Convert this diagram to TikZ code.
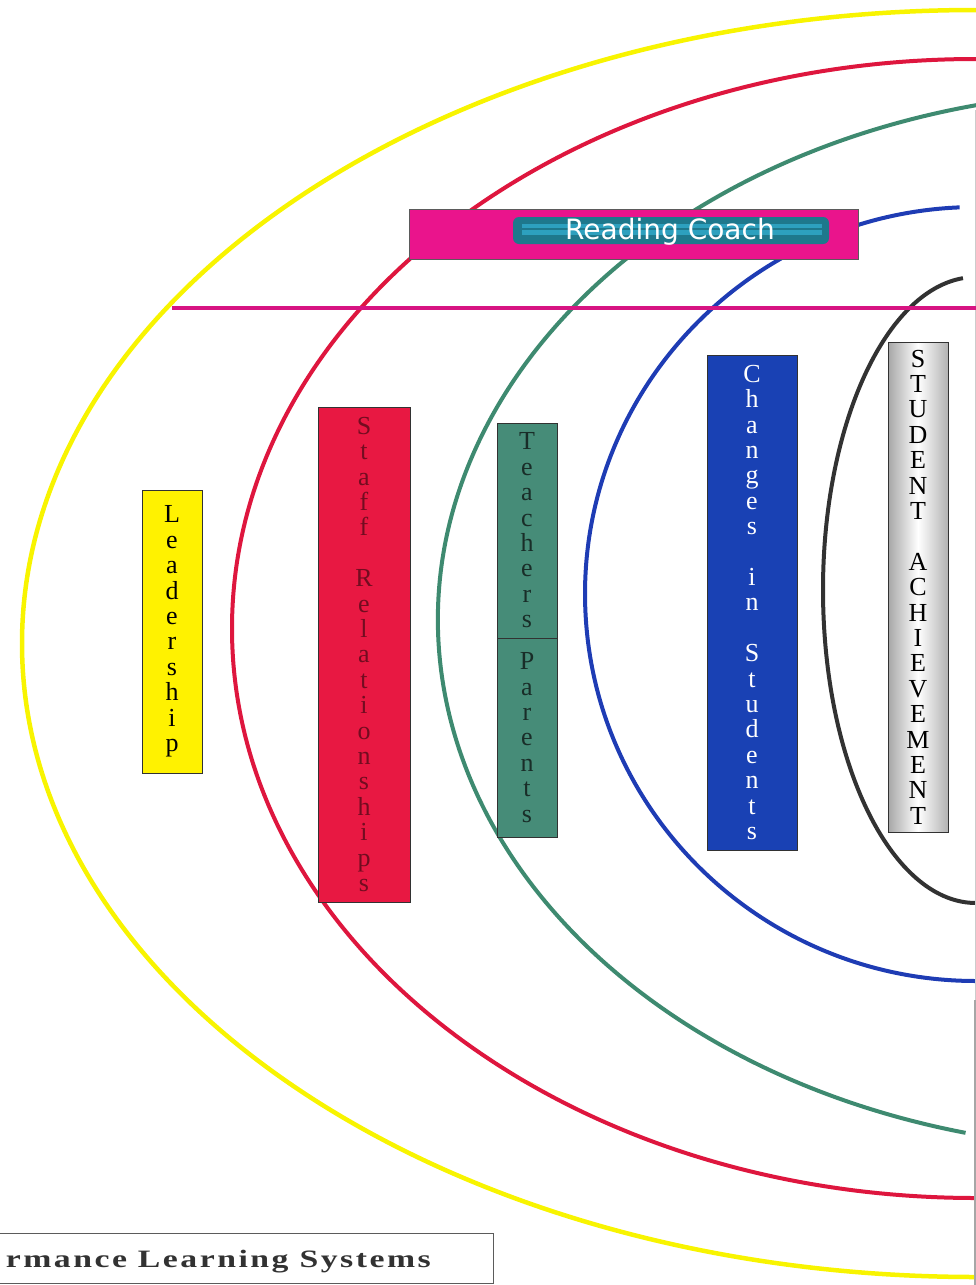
\documentclass[tikz,border=0pt]{standalone}
\usepackage{fontspec}
\setmainfont{Liberation Serif}
\newfontfamily\rcfont{DejaVu Sans}
\newfontfamily\plsfont[FakeStretch=1.35,LetterSpace=10]{Liberation Serif}
\definecolor{ylw}{RGB}{248,244,0}
\definecolor{crv}{RGB}{222,22,62}
\definecolor{grn}{RGB}{62,138,112}
\definecolor{blu}{RGB}{30,60,180}
\definecolor{blk}{RGB}{50,50,50}
\definecolor{mag}{RGB}{215,20,130}
\definecolor{pinkfill}{RGB}{234,20,140}
\definecolor{teal1}{RGB}{30,120,140}
\definecolor{teal2}{RGB}{45,160,190}
\definecolor{stafffill}{RGB}{232,24,66}
\definecolor{staffink}{RGB}{115,12,32}
\definecolor{teachfill}{RGB}{70,140,120}
\definecolor{teachink}{RGB}{25,45,40}
\definecolor{chgfill}{RGB}{25,65,180}
\begin{document}
\begin{tikzpicture}[x=1pt,y=-1pt,
  curve/.style={line width=4pt},
  vbox/.style={draw=blk, line width=0.9pt, inner sep=0pt},
  vtext/.style={inner sep=0pt, align=center, font=\fontsize{26}{25.4}\selectfont},
]
\useasboundingbox (0,0) rectangle (976,1285);
\begin{scope}
\clip (0,0) rectangle (976,1285);
% nested arcs
\draw[curve, ylw, line width=4.5pt] (976,643.5) ++(270:954 and 633.5)
  arc[start angle=270, end angle=90, x radius=954, y radius=633.5];
\draw[curve, crv] (976,628.5) ++(270:744 and 569.5)
  arc[start angle=270, end angle=90, x radius=744, y radius=569.5];
\draw[curve, grn] (1137,620) ++(258:699 and 529)
  arc[start angle=258, end angle=104.2, x radius=699, y radius=529];
\draw[curve, blu] (976,594) ++(267.6:391 and 387)
  arc[start angle=267.6, end angle=90, x radius=391, y radius=387];
\draw[curve, blk] (976,590) ++(265.1:153 and 313)
  arc[start angle=265.1, end angle=90, x radius=153, y radius=313];
% page edge
\coordinate (eT) at (975,110);
\coordinate (eM) at (975,1000);
\coordinate (eB) at (975,1285);
\draw[gray!40, line width=1pt] (eT) -- (eM);
\draw[gray!70, line width=1.2pt] (eM) -- (eB);
\end{scope}
% magenta line
\coordinate (mL) at (172,308);
\coordinate (mR) at (976,308);
\draw[mag, line width=3.5pt] (mL) -- (mR);
% Reading coach
\node[draw=blk!80, line width=0.8pt, fill=pinkfill, minimum width=449pt, minimum height=50pt, inner sep=0pt] (rc) at (633.5,234) {};
\node[fill=teal1, rounded corners=6pt, minimum width=316pt, minimum height=27pt, inner sep=0pt] (rcin) at (671,230.5) {};
\node[fill=teal2, minimum width=300pt, minimum height=11pt, inner sep=0pt] (rcstripe) at (672,229) {};
\draw[teal1, line width=1.2pt] (rcstripe.west) -- (rcstripe.east);
\node[text=white, font=\rcfont\fontsize{28}{30}\selectfont, anchor=base, inner sep=0pt] (rctext) at (670,239) {Reading Coach};
% vertical boxes
\node[vbox, fill=yellow, minimum width=60pt, minimum height=283pt] (lead) at (172,631.5) {};
\node[vtext, text=black] at (lead.center) {L\\e\\a\\d\\e\\r\\s\\h\\i\\p};
\node[vbox, fill=stafffill, minimum width=92pt, minimum height=495pt] (staff) at (364,654.5) {};
\node[vtext, text=staffink] at (staff.center) {S\\t\\a\\f\\f\\[25.4pt]R\\e\\l\\a\\t\\i\\o\\n\\s\\h\\i\\p\\s};
\node[vbox, fill=teachfill, minimum width=60pt, minimum height=215pt] (teach) at (527,530.5) {};
\node[vtext, text=teachink] at (teach.center) {T\\e\\a\\c\\h\\e\\r\\s};
\node[vbox, fill=teachfill, minimum width=60pt, minimum height=199pt] (par) at (527,737.5) {};
\node[vtext, text=teachink] at (par.center) {P\\a\\r\\e\\n\\t\\s};
\node[vbox, fill=chgfill, minimum width=90pt, minimum height=495pt] (chg) at (752,602.5) {};
\node[vtext, text=white] at (chg.center) {C\\h\\a\\n\\g\\e\\s\\[25.4pt]i\\n\\[25.4pt]S\\t\\u\\d\\e\\n\\t\\s};
\node[vbox, left color=gray!70, right color=gray!60, middle color=white, minimum width=60pt, minimum height=490pt] (ach) at (918,587) {};
\node[vtext, text=black] at (ach.center) {S\\T\\U\\D\\E\\N\\T\\[25.4pt]A\\C\\H\\I\\E\\V\\E\\M\\E\\N\\T};
% bottom label
\begin{scope}
\clip (0,0) rectangle (976,1285);
\node[draw=blk!80, line width=1pt, fill=white, minimum width=503pt, minimum height=50pt, inner sep=0pt] (pls) at (241.5,1258) {};
\node[anchor=base east, inner sep=0pt, font=\plsfont\bfseries\fontsize{25}{27}\selectfont, text=blk] (plstext) at (431,1267) {rmance Learning Systems};
\end{scope}
\end{tikzpicture}
\end{document}
